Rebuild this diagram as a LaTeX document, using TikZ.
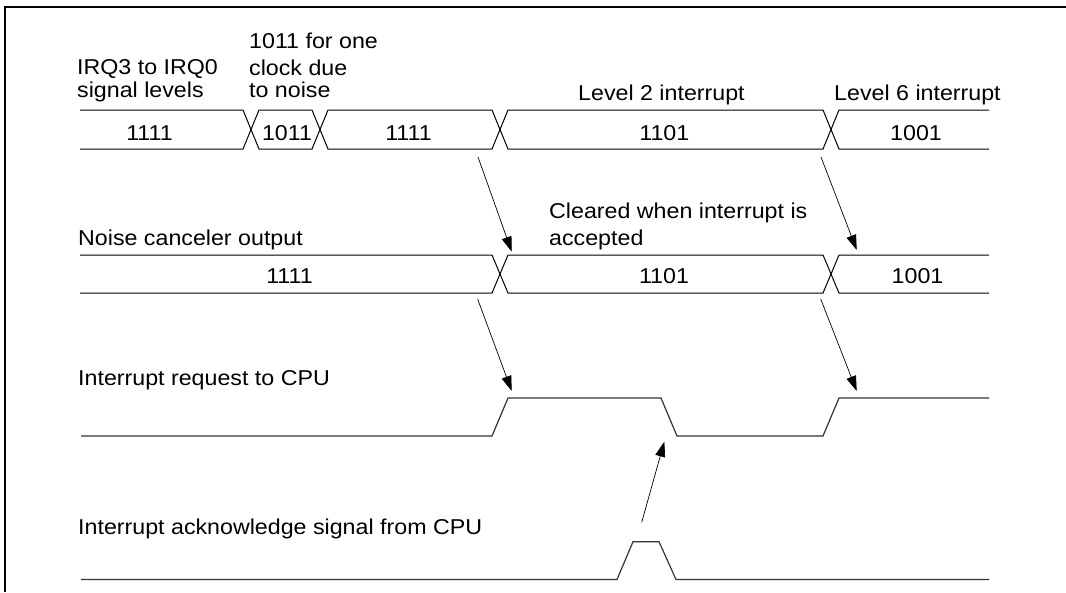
\documentclass[tikz,border=0pt]{standalone}
\usepackage{fontspec}
\setmainfont{Liberation Sans}[FakeStretch=1.08]
\usetikzlibrary{arrows.meta}
\begin{document}
\begin{tikzpicture}[x=1pt,y=-1pt,
  lbl/.style={anchor=base west,inner sep=0pt,font=\fontsize{21.5}{24}\selectfont},
  val/.style={anchor=base,inner sep=0pt,font=\fontsize{21.5}{24}\selectfont},
  bus/.style={line width=1pt,black,line join=miter},
  wave/.style={line width=1.2pt,black!80,line join=miter},
  frameline/.style={line width=2pt,black},
  ptr/.style={line width=0.7pt,black,-{Triangle[length=15pt,width=10pt]}}]
\useasboundingbox (0,0) rectangle (1066,592);
\draw[frameline] (5,592) -- (5,7) -- (1066,7);

% ---- Row 1: IRQ3..IRQ0 bus (top 110, mid 129.5, bottom 149) ----
\draw[bus] (80,110) -- (243,110) -- (251,129.5) -- (243,149) -- (80,149);
\draw[bus] (251,129.5) -- (259,110) -- (312,110) -- (320,129.5) -- (312,149) -- (259,149) -- cycle;
\draw[bus] (320,129.5) -- (328,110) -- (492,110) -- (500,129.5) -- (492,149) -- (328,149) -- cycle;
\draw[bus] (500,129.5) -- (508,110) -- (823,110) -- (831,129.5) -- (823,149) -- (508,149) -- cycle;
\draw[bus] (989,110) -- (839,110) -- (831,129.5) -- (839,149) -- (989,149);

% ---- Row 2: noise canceler output (top 255, mid 274, bottom 293) ----
\draw[bus] (80,255) -- (492,255) -- (500,274) -- (492,293) -- (80,293);
\draw[bus] (500,274) -- (508,255) -- (823,255) -- (831,274) -- (823,293) -- (508,293) -- cycle;
\draw[bus] (989,255) -- (839,255) -- (831,274) -- (839,293) -- (989,293);

% ---- Row 3: interrupt request ----
\draw[wave] (81,436) -- (492,436) -- (508,398) -- (661,398) -- (677,436) -- (823,436) -- (839,398) -- (989,398);

% ---- Row 4: acknowledge ----
\draw[wave] (81,579.5) -- (617,579.5) -- (633,541.7) -- (659,541.7) -- (676,579.5) -- (989,579.5);

% ---- labels ----
\node[lbl] (l1a) at (77,74) {IRQ3 to IRQ0};
\node[lbl] (l1b) at (77,97.3) {signal levels};
\node[lbl] (n1a) at (249,48.3) {1011 for one};
\node[lbl] (n1b) at (249,75) {clock due};
\node[lbl] (n1c) at (249,97.3) {to noise};
\node[lbl] (lv2) at (578,100.5) {Level 2 interrupt};
\node[lbl] (lv6) at (834,100.5) {Level 6 interrupt};
\node[lbl] (l2) at (78,245) {Noise canceler output};
\node[lbl] (cl1) at (549,218.3) {Cleared when interrupt is};
\node[lbl] (cl2) at (549,245) {accepted};
\node[lbl] (l3) at (78,385) {Interrupt request to CPU};
\node[lbl] (l4) at (78,534) {Interrupt acknowledge signal from CPU};

% ---- bus values ----
\node[val] (v11) at (149.5,140) {1111};
\node[val] (v12) at (287,140) {1011};
\node[val] (v13) at (408.5,140) {1111};
\node[val] (v14) at (664.3,140) {1101};
\node[val] (v15) at (916,140) {1001};
\node[val] (v21) at (289.5,283) {1111};
\node[val] (v22) at (664,283) {1101};
\node[val] (v23) at (917.5,283) {1001};

% ---- arrows ----
\coordinate (a1s) at (478,157);   \coordinate (a1e) at (511.7,251.7);
\coordinate (a2s) at (821,157);   \coordinate (a2e) at (856.7,250);
\coordinate (a3s) at (477.6,299); \coordinate (a3e) at (511.7,391);
\coordinate (a4s) at (820.7,299); \coordinate (a4e) at (856.7,391);
\coordinate (a5s) at (641.7,522.3); \coordinate (a5e) at (664.3,441.7);
\draw[ptr] (a1s) -- (a1e);
\draw[ptr] (a2s) -- (a2e);
\draw[ptr] (a3s) -- (a3e);
\draw[ptr] (a4s) -- (a4e);
\draw[ptr] (a5s) -- (a5e);
\end{tikzpicture}
\end{document}
